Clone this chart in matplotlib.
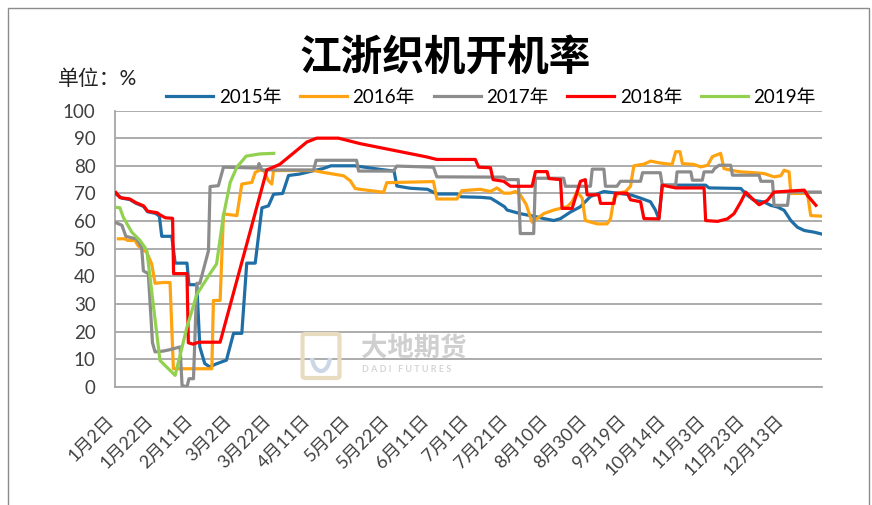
import matplotlib
matplotlib.use("Agg")
import matplotlib.pyplot as plt
import matplotlib.transforms as mtransforms
from matplotlib.patches import Rectangle, FancyBboxPatch, Arc

plt.rcParams['font.family'] = ['Lato', 'Noto Sans CJK SC']

# x positions are day indices (0 = 1月2日), values in %
tick_pos = list(range(0, 341, 20))
tick_labels = ['1月2日', '1月22日', '2月11日', '3月2日', '3月22日', '4月11日', '5月2日',
               '5月22日', '6月11日', '7月1日', '7月21日', '8月10日', '8月30日', '9月19日',
               '10月14日', '11月3日', '11月23日', '12月13日']

x_2015 = [0, 3, 7, 10, 14, 16, 20, 22, 23.2, 28.3, 30, 36, 37, 41, 42.5, 45, 47.5, 51, 56,
          59.6, 63.8, 66.3, 70.6, 74, 77.3, 79.9, 84.5, 87.5, 93, 100, 105, 109, 121, 134,
          141, 142.4, 149, 158, 162.7, 173, 175, 185, 190, 193, 197, 198.3, 205, 213.5, 217,
          222, 225.4, 230.5, 235.5, 240.6, 247.4, 254, 261, 266, 271, 273.6, 275.3, 277, 299,
          300.7, 316.8, 320.2, 323.6, 328.6, 332, 335.4, 338.8, 342.2, 345.5, 349, 354, 357.4]
y_2015 = [69.8, 68.3, 67.8, 66.5, 65.3, 63.4, 62.8, 61.8, 54.5, 54.5, 44.8, 44.8, 37, 37, 14.5,
          8.5, 7.3, 8.4, 9.7, 19.4, 19.4, 44.8, 44.8, 64.8, 65.5, 69.7, 70, 76.5, 77, 78.2, 79,
          80, 80, 78.7, 78.1, 72.7, 71.9, 71.5, 69.8, 69.8, 68.8, 68.6, 68.3, 67, 65.2, 64,
          62.7, 61.5, 60.9, 60.2, 60.9, 63.3, 65.2, 68.9, 70.7, 70.1, 69.5, 68.3, 67, 63.9,
          60.8, 73, 73, 72, 71.8, 69.3, 67.5, 66.9, 65.7, 65.1, 63.9, 60.2, 57.8, 56.6, 56, 55.4]

x_2016 = [1.2, 4.5, 6, 9.6, 11.3, 15.6, 18.1, 19.8, 24, 27.4, 29.1, 48.6, 49.4, 52.8, 54.5,
          61.3, 63.8, 68.9, 70.6, 73.1, 75, 77.3, 79, 79.9, 100.2, 105.2, 115.4, 118.8, 121.3,
          123.8, 135.7, 137.3, 161, 162.7, 172.9, 175.4, 184.7, 189.9, 193.2, 196.6, 200,
          202.5, 205, 208, 211, 213.5, 216.9, 222, 225.4, 228.8, 231.3, 233.8, 236.4, 238,
          244, 249, 250.8, 252.5, 255, 258.4, 260.9, 262.6, 267.7, 271.1, 276, 282, 283.8,
          286, 287.2, 293.1, 296.5, 300, 302.4, 306.6, 308.3, 311.7, 316.8, 321.9, 328.6,
          333.7, 337.1, 338.8, 341.3, 342.2, 350.6, 352.3, 357.4]
y_2016 = [53.6, 53.6, 53, 53, 51, 48.7, 44.5, 37.5, 37.8, 37.8, 6.6, 6.6, 31.3, 31.3, 62.6,
          62, 73.4, 74, 77.6, 78.5, 78.2, 74.6, 73.4, 78.3, 78.3, 77.6, 76.4, 74.6, 71.8, 71.5,
          70.4, 73.9, 74.3, 68, 68, 71, 71.5, 70.7, 72, 70.1, 70.1, 70.7, 69.5, 66, 59.6, 60.9,
          62.7, 64, 64.6, 65.2, 67, 70.7, 68.3, 60.2, 59, 59, 60.9, 68.3, 70.1, 70.7, 72.6, 80,
          80.6, 81.7, 81, 80.5, 85.1, 85.1, 80.8, 80.5, 79.6, 80.2, 83.3, 84.5, 79, 78.4, 77.8,
          77.6, 77.2, 76, 76.4, 78.4, 77.8, 70, 70, 62, 61.8]

x_2017 = [0, 3, 5, 10.5, 13, 13.9, 16.4, 18.5, 19.8, 24, 27.4, 32.5, 33.5, 36, 37, 39.3, 41,
          42.5, 46.9, 47.7, 51.9, 54.5, 72, 72.5, 74, 100.2, 101.5, 122, 123, 140.7, 142.4,
          161, 162.7, 196.6, 198.3, 204, 205, 211.8, 212.7, 227, 227.9, 240.6, 241.5, 247.4,
          248.2, 254, 255.8, 266, 267, 276, 277, 283.8, 284.5, 291.5, 292.3, 297.3, 298.2,
          302.4, 303.5, 305.8, 311.7, 312.6, 326.1, 327, 332.9, 333.7, 340.5, 341.3, 357]
y_2017 = [59.4, 58.5, 54.5, 53.5, 50.5, 42, 41, 16, 12.7, 13, 13.5, 14.5, 0.6, 0, 3, 3, 37.5,
          37.5, 49.3, 72.5, 72.8, 79.5, 79.2, 80.8, 78.5, 78.5, 82, 82, 78.1, 78.1, 79.9, 79.5,
          76, 75.9, 75, 75, 55.5, 55.5, 75.5, 75.5, 72.6, 72.6, 78.8, 78.8, 72.6, 72.6, 74.4,
          74.4, 77.5, 77.5, 73, 73, 77.8, 77.8, 74.8, 74.8, 77.8, 77.8, 79, 80.2, 80.2, 76.6,
          76.6, 74.4, 74.4, 65.7, 65.7, 70.5, 70.5]

x_2018 = [0, 2, 7, 10, 14, 16, 21, 22, 25, 28.7, 29.2, 36, 36.7, 39, 42, 52.8, 76.5, 83,
          96.8, 101.8, 112.8, 123.9, 157.6, 162.7, 182.2, 183.9, 189.9, 191.2, 196.6, 200, 211,
          212.7, 218.6, 219.5, 225.4, 226.2, 231.3, 235.5, 238, 238.9, 244.8, 245.7, 252.5,
          253.3, 259.2, 260.9, 266, 267.7, 275.3, 277, 283.8, 298.2, 299, 305, 310, 313.4,
          316.8, 319.3, 322.7, 326.1, 330.3, 333.7, 349, 350.6, 354.9]
y_2018 = [70.3, 68.5, 68, 66.7, 65.5, 63.6, 63, 62.4, 61.2, 61, 41, 41, 16, 15.5, 16.2, 16.2,
          78.5, 80.5, 88.6, 90, 90, 88, 83.2, 82.3, 82.3, 79.5, 79.3, 75, 74.4, 72.6, 72.6,
          77.9, 77.9, 75.4, 75, 64.6, 64.6, 74.4, 75, 69.5, 69.5, 66.4, 66.4, 70.1, 70.1, 67.7,
          67, 60.9, 60.8, 73, 72, 72, 60.2, 59.9, 60.8, 62.7, 66.9, 70.5, 68.1, 65.9, 67.5,
          70.5, 71.2, 69.3, 65.7]

x_2019 = [0, 2, 3.7, 8, 12.2, 15.6, 22.3, 30, 36, 41, 47.7, 51, 54.5, 57.9, 61.3, 66, 73, 80]
y_2019 = [65, 64.8, 61.4, 56, 53, 49.5, 9.6, 4.2, 21.7, 33.5, 41, 44.5, 62, 74, 79.5, 83.5,
          84.3, 84.5]

series = [
    ('2015年', x_2015, y_2015, '#1f6fa6'),
    ('2016年', x_2016, y_2016, '#ffa310'),
    ('2017年', x_2017, y_2017, '#8c8c8c'),
    ('2018年', x_2018, y_2018, '#ff0000'),
    ('2019年', x_2019, y_2019, '#92d050'),
]

W, H = 872, 505
fig = plt.figure(figsize=(W / 100, H / 100), dpi=100)
ax = fig.add_axes([115 / W, 1 - 387 / H, (822 - 115) / W, (387 - 110.5) / H])

for i, (name, xs, ys, c) in enumerate(series):
    ax.plot(xs, ys, color=c, lw=2.3, label=name, zorder=3 + i, solid_joinstyle='round')

ax.set_xlim(-0.5, 358)
ax.set_ylim(0, 100)
ax.set_yticks(range(0, 101, 10))
ax.yaxis.grid(True, color='#a6a6a6', lw=1.3, zorder=1)
ax.set_axisbelow(True)
ax.set_xticks(tick_pos)
ax.set_xticklabels(tick_labels, rotation=45, ha='right', va='center',
                   rotation_mode='anchor', fontsize=13, color='#404040')
ax.tick_params(axis='x', length=0, pad=16)
ax.tick_params(axis='y', length=0, pad=14, labelsize=13.5, labelcolor='#404040')
# nudge the slanted date labels down-left like the original
shift = mtransforms.ScaledTranslation(-5 / 100, -9 / 100, fig.dpi_scale_trans)
for lbl in ax.get_xticklabels():
    lbl.set_transform(lbl.get_transform() + shift)
for side in ['top', 'right']:
    ax.spines[side].set_visible(False)
for side in ['left', 'bottom']:
    ax.spines[side].set_color('#a6a6a6')
    ax.spines[side].set_linewidth(1.3)

# watermark
fig.text(361 / W, 1 - 348 / H, '大地期货', fontsize=19, weight='bold', color='#cfcfcf',
         va='center', ha='left', zorder=0)
fig.text(362 / W, 1 - 369 / H, 'D A D I   F U T U R E S', fontsize=6.5, weight='bold',
         color='#d4d4d4', va='center', ha='left', zorder=0)
fig.patches.append(FancyBboxPatch((306 / W, 1 - 376 / H), 30 / W, 40 / H,
                                  boxstyle='round,pad=0.004', transform=fig.transFigure,
                                  fill=False, edgecolor='#e8dcc0', lw=3, zorder=0))
fig.patches.append(Arc((321 / W, 1 - 356 / H), 18 / W, 30 / H, theta1=200, theta2=340,
                       transform=fig.transFigure, edgecolor='#cbd6e6', lw=3, zorder=0))

fig.text(445 / W, 1 - 57 / H, '江浙织机开机率', fontsize=30, weight='bold',
         ha='center', va='center', color='#000000')
fig.text(58 / W, 1 - 79 / H, '单位：%', fontsize=15, va='center', ha='left', color='#222222')

fig.legend(loc='center', bbox_to_anchor=(491 / W, 1 - 97 / H), ncol=5, frameon=False,
           fontsize=13.5, handlelength=2.5, handletextpad=0.3, columnspacing=1.0)

fig.patches.append(Rectangle((8 / W, -0.01), (869 - 8) / W, 1.01 - 8 / H,
                             transform=fig.transFigure, fill=False,
                             edgecolor='#8c8c8c', lw=1))

fig.savefig('out.png', dpi=100)
